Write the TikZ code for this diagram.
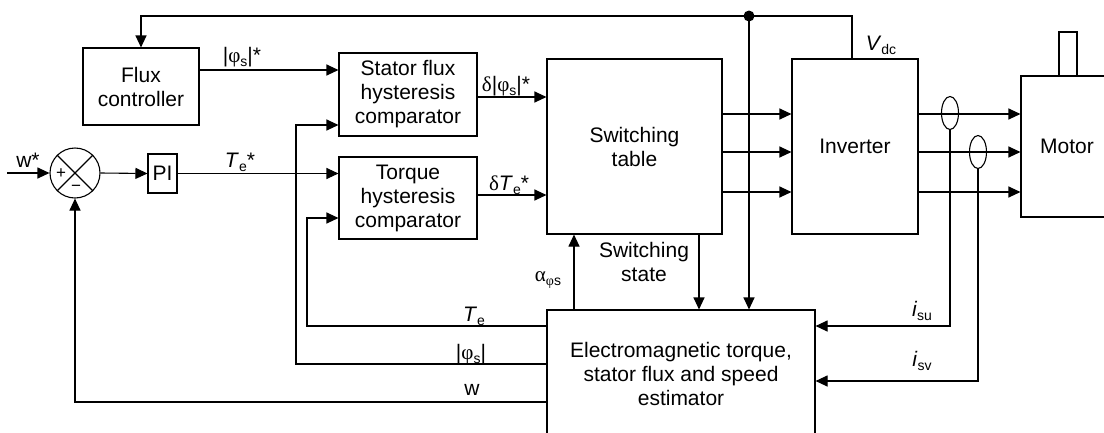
\documentclass[tikz,border=0pt]{standalone}
\usepackage{fontspec}
\setmainfont{Liberation Sans}
\newfontfamily\grk{Liberation Serif}
\usetikzlibrary{arrows.meta,shapes.geometric}
\newcommand{\lsub}[1]{\raisebox{-0.22em}{\fontsize{14}{14}\selectfont #1}}
\newcommand{\gk}[1]{{\grk #1}}
\begin{document}
\begin{tikzpicture}[x=1pt,y=-1pt,
  line width=1.1pt,
  font=\fontsize{21}{24}\selectfont,
  blk/.style={draw, rectangle, inner sep=0pt, align=center},
  arr/.style={-{Triangle[length=12pt,width=11pt]}},
  lbl/.style={anchor=base, inner sep=0pt},
  pm/.style={font=\fontsize{17}{17}\selectfont, inner sep=0pt}
]
\useasboundingbox (0,0) rectangle (1104,432);
\clip (0,0) rectangle (1104,432);

% helper rows / columns
\coordinate (r70) at (0,70);
\coordinate (r97) at (0,97);
\coordinate (r114) at (0,114);
\coordinate (r125) at (0,125);
\coordinate (r152) at (0,152);
\coordinate (r192) at (0,192);
\coordinate (r195) at (0,195);
\coordinate (r218) at (0,218);
\coordinate (r326) at (0,326);
\coordinate (r364) at (0,364);
\coordinate (r381) at (0,381);
\coordinate (r402) at (0,402);
\coordinate (c296) at (296,0);
\coordinate (c307) at (307,0);
\coordinate (c574) at (574,0);
\coordinate (c699) at (699,0);

% blocks
\node[blk, minimum width=116pt, minimum height=77pt] (flux) at (141,86.5) {Flux\\controller};
\node[blk, minimum width=138pt, minimum height=83pt] (sfh) at (408,94.5) {Stator flux\\hysteresis\\comparator};
\node[blk, minimum width=138pt, minimum height=82pt] (tqh) at (408,198) {Torque\\hysteresis\\comparator};
\node[blk, minimum width=175pt, minimum height=175pt] (sw) at (634.5,146.5) {Switching\\table};
\node[blk, minimum width=126pt, minimum height=175pt] (inv) at (855,146.5) {Inverter};
\node[blk, minimum width=92pt, minimum height=141pt] (mot) at (1067,146.5) {Motor};
\node[blk, minimum width=18pt, minimum height=44pt] (shaft) at (1068,54) {};
\node[blk, minimum width=268pt, minimum height=128pt] (est) at (681,374) {Electromagnetic torque,\\stator flux and speed\\estimator};
\node[blk, minimum width=29pt, minimum height=39pt] (pi) at (162.5,173.5) {PI};
\node[draw, circle, minimum size=50pt, inner sep=0pt] (sum) at (75,173) {};
\draw (sum.north west) -- (sum.south east) (sum.north east) -- (sum.south west);
\node[pm] (plus) at (61,174) {+};
\node[pm] (minus) at (76,188) {−};
\node[draw, ellipse, minimum width=17pt, minimum height=33pt, inner sep=0pt] (e1) at (950,113) {};
\node[draw, ellipse, minimum width=17pt, minimum height=33pt, inner sep=0pt] (e2) at (978,152) {};

% DC link / top feedback
\coordinate (dot) at (749,16);
\draw[arr] ([xshift=-3pt]inv.north) |- (dot) -| (flux.north);
\fill (dot) circle (5.5pt);
\draw[arr] (dot) -- (dot |- est.north);

% forward path
\coordinate (win) at (7,173);
\draw[arr] (win) -- (sum.west);
\draw[arr] (sum.east) -- (pi.west);
\draw[arr] (pi.east) -- (tqh.west |- pi.east);
\draw[arr] (flux.east |- r70) -- (sfh.west |- r70);
\draw[arr] (sfh.east |- r97) -- (sw.west |- r97);
\draw[arr] (tqh.east |- r195) -- (sw.west |- r195);
\foreach \r in {r114,r152,r192} {
  \draw[arr] (sw.east |- \r) -- (inv.west |- \r);
  \draw[arr] (inv.east |- \r) -- (mot.west |- \r);
}

% switching state / angle
\draw[arr] (c574 |- est.north) -- (c574 |- sw.south);
\draw[arr] (c699 |- sw.south) -- (c699 |- est.north);

% current sensors
\draw[arr] (e1.south) |- (est.east |- r326);
\draw[arr] (e2.south) |- (est.east |- r381);

% feedbacks
\draw[arr] (est.west |- r326) -- (c307 |- r326) -- (c307 |- r218) -- (tqh.west |- r218);
\draw[arr] (est.west |- r364) -- (c296 |- r364) -- (c296 |- r125) -- (sfh.west |- r125);
\draw[arr] (est.west |- r402) -| (sum.south);

% labels
\node[lbl] (l1) at (242,62) {|\gk{φ}\lsub{s}|*};
\node[lbl] (l2) at (240,167) {\textit{T}\lsub{e}*};
\node[lbl] (l3) at (28,167) {w*};
\node[lbl] (l4) at (506,91) {\gk{δ}|\gk{φ}\lsub{s}|*};
\node[lbl] (l5) at (509,190) {\gk{δ}\textit{T}\lsub{e}*};
\node[lbl] (l6) at (881,50) {\textit{V}\lsub{dc}};
\node[lbl] (l7) at (474,321) {\textit{T}\lsub{e}};
\node[lbl] (l8) at (471,359) {|\gk{φ}\lsub{s}|};
\node[lbl] (l9) at (472,395) {w};
\node[lbl] (l10) at (548,281) {\gk{α}\lsub{\gk{φ}s}};
\node[lbl] (l11) at (922,316) {\textit{i}\lsub{su}};
\node[lbl] (l12) at (922,366) {\textit{i}\lsub{sv}};
\node[align=center, inner sep=0pt] (l13) at (644,262) {Switching\\state};
\end{tikzpicture}
\end{document}
